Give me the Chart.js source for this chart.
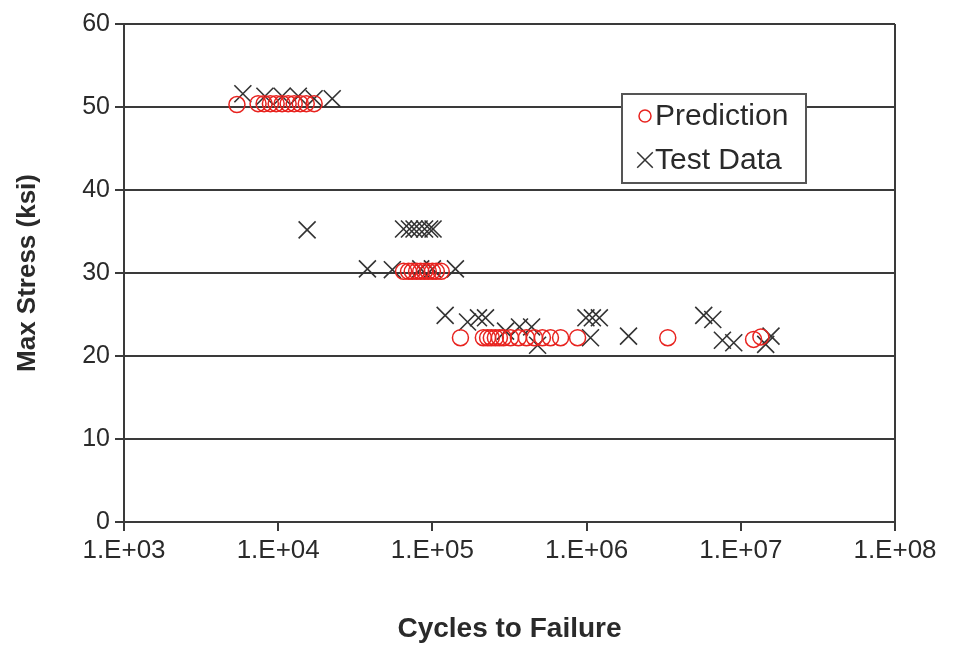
<!DOCTYPE html>
<html><head><meta charset="utf-8">
<script src="https://cdn.jsdelivr.net/npm/chart.js@4/dist/chart.umd.min.js"></script>
<style>html,body{margin:0;padding:0;background:#fff;}#wrap{width:957px;height:646px;position:relative;}</style>
</head><body><div id="wrap"><canvas id="c" width="957" height="646"></canvas></div>
<script>
const xTickValues = [1e3, 1e4, 1e5, 1e6, 1e7, 1e8];
const xTickLabels = ['1.E+03', '1.E+04', '1.E+05', '1.E+06', '1.E+07', '1.E+08'];
const yTickValues = [0, 10, 20, 30, 40, 50, 60];
const seriesNames = ['Prediction', 'Test Data'];
const xTitle = 'Cycles to Failure';
const yTitle = 'Max Stress (ksi)';

const predictionCycles = [5.4e3, 7.4e3, 8.1e3, 8.9e3, 9.7e3, 1.06e4, 1.16e4, 1.27e4, 1.39e4, 1.52e4, 1.71e4,
  6.5e4, 7.0e4, 7.4e4, 7.9e4, 8.4e4, 8.9e4, 9.4e4, 1.0e5, 1.06e5, 1.14e5,
  1.52e5, 2.14e5, 2.28e5, 2.41e5, 2.56e5, 2.72e5, 2.89e5, 3.21e5, 3.61e5, 4.07e5, 4.59e5, 5.17e5, 5.83e5, 6.78e5, 8.74e5,
  3.36e6, 1.21e7, 1.35e7];
const predictionStress = [50.3, 50.4, 50.4, 50.4, 50.4, 50.4, 50.4, 50.4, 50.4, 50.4, 50.4,
  30.2, 30.2, 30.2, 30.2, 30.2, 30.2, 30.2, 30.2, 30.2, 30.2,
  22.2, 22.2, 22.2, 22.2, 22.2, 22.2, 22.2, 22.2, 22.2, 22.2, 22.2, 22.2, 22.2, 22.2, 22.2,
  22.2, 22.0, 22.3];

const testCycles = [5.9e3, 8.2e3, 1.06e4, 1.35e4, 1.71e4, 2.24e4,
  1.54e4, 3.79e4, 5.5e4,
  6.5e4, 7.1e4, 7.6e4, 8.2e4, 8.9e4, 9.6e4, 1.01e5,
  8.4e4, 1.0e5, 1.41e5,
  1.21e5, 1.69e5, 1.99e5, 2.21e5, 2.98e5, 3.67e5, 4.40e5, 4.81e5,
  9.9e5, 1.09e6, 1.21e6, 1.06e6, 1.87e6,
  5.75e6, 6.58e6, 7.6e6, 9.0e6, 1.45e7, 1.57e7];
const testStress = [51.6, 51.3, 51.3, 51.3, 51.0, 51.0,
  35.2, 30.5, 30.4,
  35.3, 35.3, 35.3, 35.3, 35.3, 35.3, 35.3,
  30.5, 30.5, 30.5,
  24.9, 24.1, 24.6, 24.6, 23.0, 23.5, 23.5, 21.3,
  24.6, 24.6, 24.6, 22.2, 22.4,
  24.9, 24.4, 21.9, 21.6, 21.4, 22.4];

const toPts = (xs, ys) => xs.map((x, i) => ({x: x, y: ys[i]}));
const FONT = '"Liberation Sans", Arial, sans-serif';
const TEXT = '#2a2a2a';
const LINE = '#3a3a3a';

const legendPlugin = {
  id: 'boxLegend',
  afterDraw(chart) {
    const ctx = chart.ctx;
    const x0 = 622, y0 = 94, w = 184, h = 89;
    ctx.save();
    ctx.fillStyle = '#fff';
    ctx.fillRect(x0, y0, w, h);
    ctx.strokeStyle = '#555';
    ctx.lineWidth = 2;
    ctx.strokeRect(x0, y0, w, h);
    chart.data.datasets.forEach((ds, i) => {
      const cy = y0 + 22 + i * 44;
      ctx.strokeStyle = ds.borderColor;
      ctx.fillStyle = 'rgba(0,0,0,0)';
      ctx.lineWidth = 1.5;
      Chart.helpers.drawPoint(ctx, {pointStyle: ds.pointStyle, radius: i === 0 ? 6 : 11, borderWidth: 1.5}, 645, cy);
      ctx.fillStyle = TEXT;
      ctx.font = '30px ' + FONT;
      ctx.textBaseline = 'middle';
      ctx.textAlign = 'left';
      ctx.fillText(ds.label, 655, cy + 1);
    });
    ctx.restore();
  }
};

new Chart(document.getElementById('c'), {
  type: 'scatter',
  data: {
    datasets: [
      {label: seriesNames[0], data: toPts(predictionCycles, predictionStress), pointStyle: 'circle',
        pointRadius: 8, pointHoverRadius: 8, borderColor: '#e8231f', backgroundColor: 'rgba(0,0,0,0)', pointBorderWidth: 1.5},
      {label: seriesNames[1], data: toPts(testCycles, testStress), pointStyle: 'crossRot',
        pointRadius: 12, pointHoverRadius: 12, borderColor: '#333', backgroundColor: 'rgba(0,0,0,0)', pointBorderWidth: 1.6}
    ]
  },
  options: {
    responsive: false,
    animation: false,
    events: [],
    layout: {padding: {top: 24, right: 62, left: 0, bottom: 0}},
    plugins: {legend: {display: false}, tooltip: {enabled: false}},
    scales: {
      x: {
        type: 'logarithmic', min: xTickValues[0], max: xTickValues[xTickValues.length - 1],
        afterBuildTicks: (s) => { s.ticks = xTickValues.map(v => ({value: v, major: true})); },
        afterFit: (s) => { s.height = 124; },
        ticks: {autoSkip: false, maxRotation: 0, padding: 4, color: TEXT, font: {family: FONT, size: 26},
          callback: (v) => xTickLabels[xTickValues.indexOf(v)]},
        grid: {drawOnChartArea: true, drawTicks: true, tickLength: 9, lineWidth: 2,
          color: (c) => (c.index === xTickValues.length - 1 ? LINE : 'rgba(0,0,0,0)'), tickColor: LINE, tickWidth: 2},
        border: {display: true, color: LINE, width: 2},
        title: {display: true, text: xTitle, color: TEXT, font: {family: FONT, size: 28, weight: 'bold'}, padding: {top: 0, bottom: 0}}
      },
      y: {
        min: 0, max: 60,
        afterBuildTicks: (s) => { s.ticks = yTickValues.map(v => ({value: v})); },
        afterFit: (s) => { s.width = 124; },
        ticks: {padding: 5, color: TEXT, font: {family: FONT, size: 25}},
        grid: {color: LINE, lineWidth: 2, tickLength: 9, tickColor: LINE, tickWidth: 2},
        border: {display: true, color: LINE, width: 2},
        title: {display: true, text: yTitle, color: TEXT, font: {family: FONT, size: 26, weight: 'bold'}, padding: {top: 12, bottom: 0}}
      }
    }
  },
  plugins: [legendPlugin]
});
</script></body></html>
